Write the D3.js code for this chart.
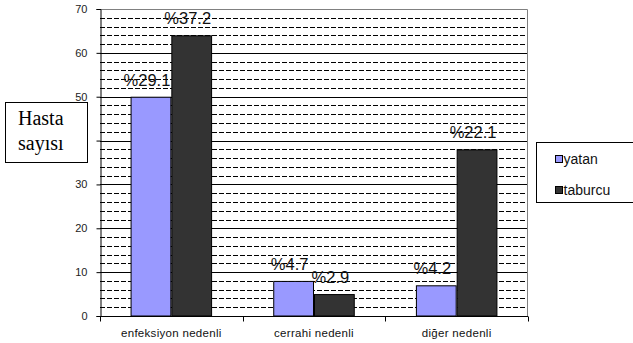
<!DOCTYPE html>
<html>
<head>
<meta charset="utf-8">
<script src="https://cdn.jsdelivr.net/npm/d3@7"></script>
<style>
  html, body { margin: 0; padding: 0; background: #fff; }
  svg { display: block; }
</style>
</head>
<body>
<svg id="chart" width="633" height="343"></svg>
<script>
// Patient counts by discharge reason
const categories = ["enfeksiyon nedenli", "cerrahi nedenli", "diğer nedenli"];
const seriesNames = ["yatan", "taburcu"];
const yatanValues = [50, 8, 7];
const taburcuValues = [64, 5, 38];
const yatanLabels = ["%29.1", "%4.7", "%4.2"];
const taburcuLabels = ["%37.2", "%2.9", "%22.1"];
const yTicks = [0, 10, 20, 30, 40, 50, 60, 70];
const seriesColors = ["#9999FF", "#333333"];

const svg = d3.select("#chart");
const plot = { left: 100, right: 528, top: 9, bottom: 316 };

const x0 = d3.scaleBand().domain(categories).range([plot.left, plot.right]).paddingInner(0).paddingOuter(0);
// Excel-like gap width of 150%: two bars occupy 2/3.5 of each category
const groupWidth = x0.bandwidth() * 2 / 3.5;
const x1 = d3.scaleBand().domain(seriesNames).range([0, groupWidth]).padding(0);
const y = d3.scaleLinear().domain([0, 70]).range([plot.bottom, plot.top]);

// minor dashed gridlines every 2 units
const minor = d3.range(2, 70, 2).filter(v => v % 10 !== 0);
svg.append("g").selectAll("line").data(minor).join("line")
  .attr("x1", plot.left).attr("x2", plot.right)
  .attr("y1", d => Math.round(y(d)) + 0.5).attr("y2", d => Math.round(y(d)) + 0.5)
  .attr("stroke", "#000").attr("stroke-width", 1).attr("stroke-dasharray", "5,2");

// major solid gridlines
svg.append("g").selectAll("line").data(yTicks.filter(v => v > 0 && v < 70)).join("line")
  .attr("x1", plot.left).attr("x2", plot.right)
  .attr("y1", d => Math.round(y(d)) + 0.5).attr("y2", d => Math.round(y(d)) + 0.5)
  .attr("stroke", "#000").attr("stroke-width", 1);

// plot area frame (top and right)
svg.append("path")
  .attr("d", `M${plot.left},${plot.top + 0.5}H${plot.right - 0.5}V${plot.bottom}`)
  .attr("fill", "none").attr("stroke", "#808080").attr("stroke-width", 1);

// bars
const rows = categories.map((c, i) => ({
  cat: c,
  vals: [
    { s: "yatan", v: yatanValues[i], label: yatanLabels[i] },
    { s: "taburcu", v: taburcuValues[i], label: taburcuLabels[i] }
  ]
}));

const groups = svg.append("g").selectAll("g").data(rows).join("g")
  .attr("transform", d => `translate(${x0(d.cat) + (x0.bandwidth() - groupWidth) / 2},0)`);

groups.selectAll("rect").data(d => d.vals).join("rect")
  .attr("x", d => x1(d.s) + 0.5)
  .attr("y", d => y(d.v) + 0.5)
  .attr("width", x1.bandwidth() - 1)
  .attr("height", d => y(0) - y(d.v) - 0.5)
  .attr("fill", (d, i) => seriesColors[i])
  .attr("stroke", "#000").attr("stroke-width", 1);

groups.selectAll("text").data(d => d.vals).join("text")
  .attr("x", d => x1(d.s) + x1.bandwidth() / 2 - 4)
  .attr("y", d => y(d.v) - 11)
  .attr("text-anchor", "middle")
  .attr("font-family", "Arial, 'Liberation Sans', sans-serif")
  .attr("font-size", 16.5)
  .attr("fill", "#111")
  .text(d => d.label);

// y axis
const yAxis = svg.append("g").attr("transform", `translate(${plot.left + 0.5},0)`)
  .call(d3.axisLeft(y).tickValues(yTicks).tickSize(4).tickPadding(9).tickFormat(d3.format("d")));
yAxis.select(".domain").attr("stroke", "#000");
yAxis.selectAll(".tick line").attr("stroke", "#000");
yAxis.selectAll("text").attr("font-family", "Arial, 'Liberation Sans', sans-serif")
  .attr("font-size", 11).attr("fill", "#222");

// x axis with boundary ticks
const xAxisG = svg.append("g").attr("transform", `translate(0,${plot.bottom + 0.5})`);
xAxisG.append("line").attr("x1", plot.left).attr("x2", plot.right)
  .attr("stroke", "#000");
const bounds = categories.map(c => x0(c)).concat([plot.right]);
xAxisG.selectAll(".bt").data(bounds).join("line").attr("class", "bt")
  .attr("x1", d => Math.round(d) + 0.5).attr("x2", d => Math.round(d) + 0.5)
  .attr("y1", 0).attr("y2", 5).attr("stroke", "#000");
xAxisG.selectAll("text").data(categories).join("text")
  .attr("x", d => x0(d) + x0.bandwidth() / 2)
  .attr("y", 20)
  .attr("text-anchor", "middle")
  .attr("font-family", "Arial, 'Liberation Sans', sans-serif")
  .attr("font-size", 11.5).attr("letter-spacing", 0.3).attr("fill", "#111")
  .text(d => d);

// y axis title box
const title = svg.append("g");
title.append("rect").attr("x", 5.5).attr("y", 102.5).attr("width", 82).attr("height", 60)
  .attr("fill", "#fff").attr("stroke", "#000");
title.selectAll("text").data(["Hasta", "sayısı"]).join("text")
  .attr("x", 18).attr("y", (d, i) => 125 + i * 25)
  .attr("font-family", "'Times New Roman', 'Liberation Serif', serif")
  .attr("font-size", 20).attr("fill", "#000")
  .text(d => d);

// legend
const legend = svg.append("g");
legend.append("rect").attr("x", 536.5).attr("y", 142.5).attr("width", 110).attr("height", 60)
  .attr("fill", "#fff").attr("stroke", "#000");
const items = legend.selectAll("g").data(seriesNames).join("g")
  .attr("transform", (d, i) => `translate(555,${155 + i * 31})`);
items.append("rect").attr("x", 0.5).attr("y", 0.5).attr("width", 7).attr("height", 7)
  .attr("fill", (d, i) => seriesColors[i]).attr("stroke", "#000");
items.append("text").attr("x", 8.5).attr("y", 9)
  .attr("font-family", "Arial, 'Liberation Sans', sans-serif")
  .attr("font-size", 14).attr("fill", "#111")
  .text(d => d);
</script>
</body>
</html>
